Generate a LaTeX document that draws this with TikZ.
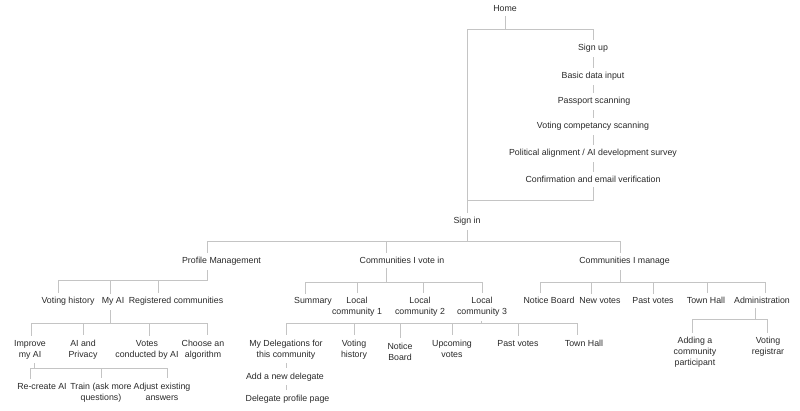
\documentclass[tikz,border=0pt]{standalone}
\usepackage{fontspec}
\setmainfont{Liberation Sans}
\definecolor{txt}{HTML}{2A2A2A}
\definecolor{ln}{HTML}{C4C4C4}
\begin{document}
\begin{tikzpicture}[x=1pt,y=-1pt,
  lbl/.style={anchor=base, font=\fontsize{8.8}{11}\selectfont, text=txt, align=center, inner xsep=2pt, inner ysep=4pt},
  link/.style={draw=ln, line width=0.9pt}]
\useasboundingbox[fill=white] (0,0) rectangle (800,411);

% ---------- top: home, sign up chain, sign in ----------
\node[lbl] (home) at (505,12) {Home};
\node[lbl] (signup) at (593,51) {Sign up};
\node[lbl] (basic) at (593,79) {Basic data input};
\node[lbl] (pass) at (594,104) {Passport scanning};
\node[lbl] (vcomp) at (593,129) {Voting competancy scanning};
\node[lbl] (polit) at (593,156) {Political alignment / AI development survey};
\node[lbl] (confirm) at (593,183) {Confirmation and email verification};
\node[lbl] (signin) at (467,224) {Sign in};

\coordinate (homeb) at (505,29);
\coordinate (xsignin) at (467,0);
\coordinate (xchain) at (593,0);
\coordinate (confb) at (593,200);
\draw[link] (home.south) -- (homeb) -| (signin.north -| xsignin);
\draw[link] (homeb) -| (signup.north -| xchain);
\draw[link] (signup.south -| xchain) -- (basic.north -| xchain);
\draw[link] (basic.south -| xchain) -- (pass.north -| xchain);
\draw[link] (pass.south -| xchain) -- (vcomp.north -| xchain);
\draw[link] (vcomp.south -| xchain) -- (polit.north -| xchain);
\draw[link] (polit.south -| xchain) -- (confirm.north -| xchain);
\draw[link] (confirm.south -| confb) -- (confb) -- (confb -| xsignin);

% ---------- level 1 ----------
\node[lbl] (pm) at (221.5,264) {Profile Management};
\node[lbl] (cv) at (402,264) {Communities I vote in};
\node[lbl] (cm) at (624.5,264) {Communities I manage};
\coordinate (sib) at (467,241.5);
\coordinate (xpm) at (207,0);
\coordinate (xcv) at (386,0);
\coordinate (xcm) at (620,0);
\draw[link] (signin.south) -- (sib) -| (pm.north -| xpm);
\draw[link] (sib) -| (cv.north -| xcv);
\draw[link] (sib) -| (cm.north -| xcm);

% ---------- profile management ----------
\node[lbl] (vh1) at (68,304) {Voting history};
\node[lbl] (myai) at (113,304) {My AI};
\node[lbl] (reg) at (176,304) {Registered communities};
\coordinate (pmb) at (207,280);
\coordinate (xvh1) at (58,0);
\coordinate (xmyai) at (110,0);
\coordinate (xreg) at (158,0);
\draw[link] (pm.south -| pmb) -- (pmb) -| (vh1.north -| xvh1);
\draw[link] (pmb) -| (myai.north -| xmyai);
\draw[link] (pmb) -| (reg.north -| xreg);

% ---------- my AI ----------
\node[lbl] (improve) at (30,357) {Improve\\my AI};
\node[lbl] (aipriv) at (83,357) {AI and\\Privacy};
\node[lbl] (votesai) at (147,357) {Votes\\conducted by AI};
\node[lbl] (choose) at (203,357) {Choose an\\algorithm};
\coordinate (myaib) at (110,323);
\coordinate (ximprove) at (31,0);
\coordinate (xaipriv) at (83,0);
\coordinate (xvotesai) at (149,0);
\coordinate (xchoose) at (207,0);
\draw[link] (myai.south -| myaib) -- (myaib) -| (improve.north -| ximprove);
\draw[link] (myaib) -| (aipriv.north -| xaipriv);
\draw[link] (myaib) -| (votesai.north -| xvotesai);
\draw[link] (myaib) -| (choose.north -| xchoose);

% ---------- improve my AI ----------
\node[lbl] (recreate) at (42,389) {Re-create AI};
\node[lbl] (train) at (101,400) {Train (ask more\\questions)};
\node[lbl] (adjust) at (162,400) {Adjust existing\\answers};
\coordinate (impb) at (34,368);
\coordinate (xrecreate) at (30,0);
\coordinate (xtrain) at (101,0);
\coordinate (xadjust) at (167,0);
\draw[link] (improve.south -| impb) -- (impb) -| (recreate.north -| xrecreate);
\draw[link] (impb) -| (train.north -| xtrain);
\draw[link] (impb) -| (adjust.north -| xadjust);

% ---------- communities I vote in ----------
\node[lbl] (summary) at (313,304) {Summary};
\node[lbl] (lc1) at (357,315) {Local\\community 1};
\node[lbl] (lc2) at (420,315) {Local\\community 2};
\node[lbl] (lc3) at (482,315) {Local\\community 3};
\coordinate (cvb) at (386,282);
\coordinate (xsummary) at (305,0);
\coordinate (xlc1) at (357,0);
\coordinate (xlc2) at (423,0);
\coordinate (xlc3) at (482,0);
\draw[link] (cv.south -| cvb) -- (cvb) -| (summary.north -| xsummary);
\draw[link] (cvb) -| (lc1.north -| xlc1);
\draw[link] (cvb) -| (lc2.north -| xlc2);
\draw[link] (cvb) -| (lc3.north -| xlc3);

% ---------- local community 3 ----------
\node[lbl] (deleg) at (286,357) {My Delegations for\\this community};
\node[lbl] (vh2) at (354,357) {Voting\\history};
\node[lbl] (nb2) at (400,360) {Notice\\Board};
\node[lbl] (upcoming) at (452,357) {Upcoming\\votes};
\node[lbl] (pastv2) at (518,346) {Past votes};
\node[lbl] (th2) at (584,346) {Town Hall};
\coordinate (lc3b) at (481,323);
\coordinate (xdeleg) at (286,0);
\coordinate (xvh2) at (354,0);
\coordinate (xnb2) at (400,0);
\coordinate (xupcoming) at (452,0);
\coordinate (xpastv2) at (518,0);
\coordinate (xth2) at (577,0);
\draw[link] (lc3.south -| lc3b) -- (lc3b) -| (deleg.north -| xdeleg);
\draw[link] (lc3b) -| (vh2.north -| xvh2);
\draw[link] (lc3b) -| (nb2.north -| xnb2);
\draw[link] (lc3b) -| (upcoming.north -| xupcoming);
\draw[link] (lc3b) -| (pastv2.north -| xpastv2);
\draw[link] (lc3b) -| (th2.north -| xth2);

\node[lbl] (addd) at (285,379) {Add a new delegate};
\node[lbl] (dprof) at (287.5,401) {Delegate profile page};
\draw[link] (deleg.south -| xdeleg) -- (addd.north -| xdeleg);
\draw[link] (addd.south -| xdeleg) -- (dprof.north -| xdeleg);

% ---------- communities I manage ----------
\node[lbl] (nb1) at (549,304) {Notice Board};
\node[lbl] (newv) at (600,304) {New votes};
\node[lbl] (pastv1) at (653,304) {Past votes};
\node[lbl] (th1) at (706,304) {Town Hall};
\node[lbl] (admin) at (762,304) {Administration};
\coordinate (cmb) at (620,282);
\coordinate (xnb1) at (540,0);
\coordinate (xnewv) at (591,0);
\coordinate (xpastv1) at (653,0);
\coordinate (xth1) at (707,0);
\coordinate (xadmin) at (765,0);
\draw[link] (cm.south -| cmb) -- (cmb) -| (nb1.north -| xnb1);
\draw[link] (cmb) -| (newv.north -| xnewv);
\draw[link] (cmb) -| (pastv1.north -| xpastv1);
\draw[link] (cmb) -| (th1.north -| xth1);
\draw[link] (cmb) -| (admin.north -| xadmin);

% ---------- administration ----------
\node[lbl] (addpart) at (695,366) {Adding a\\community\\participant};
\node[lbl] (votreg) at (768,355) {Voting\\registrar};
\coordinate (adminb) at (755,319);
\coordinate (xaddpart) at (692,0);
\coordinate (xvotreg) at (767,0);
\draw[link] (admin.south -| adminb) -- (adminb) -| (addpart.north -| xaddpart);
\draw[link] (adminb) -| (votreg.north -| xvotreg);
\end{tikzpicture}
\end{document}
